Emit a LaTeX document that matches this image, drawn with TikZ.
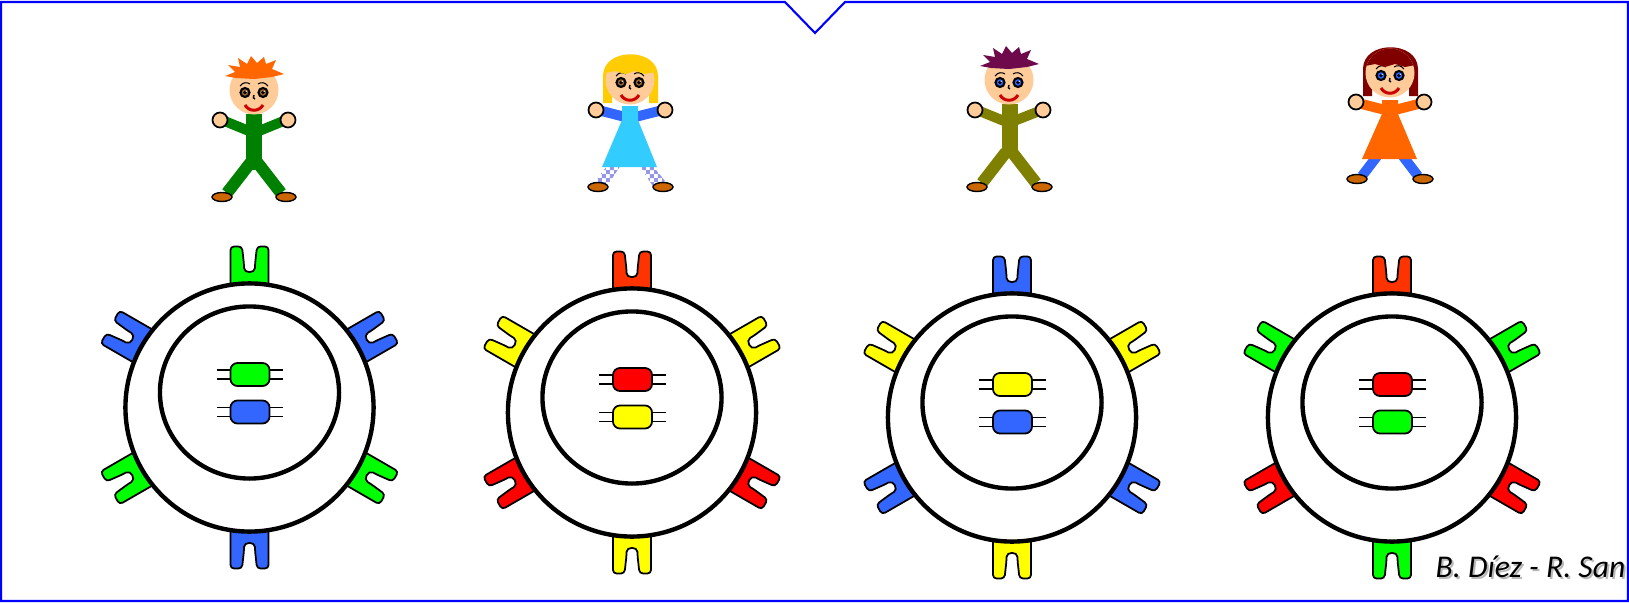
\documentclass[tikz,border=0pt]{standalone}
\usepackage{fontspec}
\newfontfamily\creditfont{Carlito}
\usetikzlibrary{shapes.geometric}
\usetikzlibrary{patterns}

\definecolor{frameblue}{RGB}{0,0,255}
\definecolor{recgreen}{RGB}{0,255,0}
\definecolor{recblue}{RGB}{51,102,255}
\definecolor{recred}{RGB}{255,0,0}
\definecolor{recorange}{RGB}{255,51,0}
\definecolor{recyellow}{RGB}{255,255,0}
\definecolor{skin}{RGB}{255,204,153}
\definecolor{shoe}{RGB}{204,102,0}
\definecolor{lipred}{RGB}{204,0,0}
\definecolor{irisbrown}{RGB}{153,102,51}
\definecolor{irisblue}{RGB}{51,102,255}
\definecolor{suitgreen}{RGB}{0,128,0}
\definecolor{suitolive}{RGB}{128,128,0}
\definecolor{hairorange}{RGB}{255,102,0}
\definecolor{hairblond}{RGB}{255,204,0}
\definecolor{hairplum}{RGB}{110,10,75}
\definecolor{hairmaroon}{RGB}{128,0,0}
\definecolor{dresssky}{RGB}{51,204,255}
\definecolor{dressorange}{RGB}{255,102,0}
\definecolor{checklilac}{RGB}{150,150,230}

% small checks for the stockings
\pgfdeclarepatternformonly{legchecks}{\pgfqpoint{0pt}{0pt}}{\pgfqpoint{2.4pt}{2.4pt}}{\pgfqpoint{2.4pt}{2.4pt}}{%
  \pgfpathrectangle{\pgfqpoint{0pt}{0pt}}{\pgfqpoint{1.2pt}{1.2pt}}%
  \pgfpathrectangle{\pgfqpoint{1.2pt}{1.2pt}}{\pgfqpoint{1.2pt}{1.2pt}}%
  \pgfusepath{fill}}

\begin{document}
\begin{tikzpicture}[x=0.01cm, y=-0.01cm,
    cellwall/.style={circle, draw, line width=1.25pt, fill=white, minimum size=2.48cm, inner sep=0pt},
    nucleus/.style={ellipse, draw, line width=1.25pt, minimum width=1.79cm, minimum height=1.72cm, inner sep=0pt},
    gene/.style={rectangle, draw, rounded corners=0.07cm, line width=0.5pt, minimum width=0.39cm, minimum height=0.23cm, inner sep=0pt},
    stub/.style={line width=0.5pt},
    pics/receptor/.style={code={
      \filldraw[fill=#1, line width=0.5pt, rounded corners=0.035cm] (105,-19) -- (161,-19) -- (161,-7.5) -- (143,-5.5)
        .. controls (134,-5.5) and (134,5.5) .. (143,5.5) -- (161,7.5) -- (161,19) -- (105,19) -- cycle;
    }},
    pics/face/.style={code={
      \fill[skin] (0,0) circle (24.5);
      \foreach \ex in {-9,9} {
        \filldraw[fill=#1, line width=0.6pt] (\ex,2.5) circle (4.5);
        \fill (\ex,2.5) circle (1.8);
        \fill[white] ({\ex+1.2},1.3) circle (0.7);
      }
      \draw[line width=0.3pt] (-14,-4) .. controls (-11,-8) and (-7,-8) .. (-4,-6)
        (4,-6) .. controls (7,-8) and (11,-8) .. (14,-4);
      \draw[line width=0.4pt] (0,5) .. controls (-1.5,7) and (-0.5,9) .. (1,9);
      \draw[lipred, line width=0.85pt] (-9,15) .. controls (-5,22) and (5,22) .. (9,15);
    }},
    pics/spikes/.style={code={
      \fill[#1] (-29,-14) -- (-19,-18) -- (-26,-25) -- (-14,-23) -- (-16,-32) -- (-7,-26) -- (-3,-34) -- (3,-27)
        -- (10,-33) -- (12,-26) -- (22,-30) -- (18,-21) -- (30,-16) -- (18,-13) -- (0,-11) -- (-18,-12) -- cycle;
    }},
    pics/girlhead/.style 2 args={code={
      \fill[#1] (-27,23) -- (-27,-4) .. controls (-27,-33) and (28,-33) .. (28,-4) -- (28,23) -- (19,23)
        -- (19,0) -- (-18,0) -- (-18,23) -- cycle;
      \pic {face=#2};
      \begin{scope}
        \clip (0,0) circle (24.5);
        \fill[#1] (-30,-30) -- (30,-30) -- (30,-9) -- (15,-6) -- (5,-9) -- (-5,-6) -- (-15,-9) -- (-30,-6) -- cycle;
      \end{scope}
    }}]

\useasboundingbox (0,0) rectangle (1629,603);

% frame with the notch on top
\draw[frameblue, line width=0.6pt] (785,2) -- (1,2) -- (1,601) -- (1628,601) -- (1628,2) -- (845,2) -- (815,33) -- cycle;

% cells: receptors, membrane, nucleus, two genes
\foreach \n/\x/\y/\tc/\ra/\rb/\ga/\gb in {
    1/249.5/407.5/recgreen/recgreen/recblue/recgreen/recblue,
    2/632/412.5/recorange/recred/recyellow/recred/recyellow,
    3/1012/417.5/recblue/recblue/recyellow/recyellow/recblue,
    4/1392/417.5/recorange/recred/recgreen/recred/recgreen} {
  \pic[rotate=90] at (\x,\y) {receptor=\tc};
  \foreach \ang in {-30,210} \pic[rotate=\ang] at (\x,\y) {receptor=\ra};
  \foreach \ang in {30,150,270} \pic[rotate=\ang] at (\x,\y) {receptor=\rb};
  \node[cellwall] (cell\n) at (\x,\y) {};
  \node[nucleus] (nucleus\n) at (\x,{\y-15}) {};
  \node[gene, fill=\ga] (gene\n-top) at ({\x+0.5},{\y-33}) {};
  \node[gene, fill=\gb] (gene\n-bot) at ({\x+0.5},{\y+4.5}) {};
  \foreach \g in {top,bot} {
    \draw[stub] ([yshift=0.045cm]gene\n-\g.west) -- ++(-13,0) ([yshift=-0.045cm]gene\n-\g.west) -- ++(-13,0);
    \draw[stub] ([yshift=0.045cm]gene\n-\g.east) -- ++(13,0) ([yshift=-0.045cm]gene\n-\g.east) -- ++(13,0);
  }
}

% first boy
\begin{scope}[shift={(254,90)}]
  \draw[suitgreen, line width=0.12cm] (-3,72) -- (-27,103) (3,72) -- (27,103);
  \filldraw[fill=shoe, line width=0.4pt] (-32,107) ellipse (10 and 4.5) (32,107) ellipse (10 and 4.5);
  \fill[suitgreen] (-8,24) rectangle (8,80);
  \draw[suitgreen, line width=0.1cm] (-5,41) -- (-32,30) (5,41) -- (32,30);
  \filldraw[fill=skin, line width=0.5pt] (-34,30) circle (7.5) (34,30) circle (7.5);
  \pic {face=irisbrown};
  \pic {spikes=hairorange};
\end{scope}

% first girl
\begin{scope}[shift={(630,80)}]
  \path[fill=white, postaction={pattern=legchecks, pattern color=checklilac}]
    (-6,80) -- (-24,108) -- (-35,101) -- (-18,80) -- cycle (6,80) -- (24,108) -- (35,101) -- (18,80) -- cycle;
  \filldraw[fill=shoe, line width=0.4pt] (-32,107) ellipse (10 and 4.5) (33,107) ellipse (10 and 4.5);
  \draw[recblue, line width=0.1cm] (-5,37) -- (-32,30) (5,37) -- (33,30);
  \filldraw[fill=skin, line width=0.5pt] (-34,30) circle (7.5) (35,30) circle (7.5);
  \fill[dresssky] (-8,26) -- (8,26) -- (8,40) -- (27,87) -- (-28,87) -- (-8,40) -- cycle;
  \pic {girlhead={hairblond}{irisbrown}};
\end{scope}

% second boy
\begin{scope}[shift={(1009,80)}]
  \draw[suitolive, line width=0.12cm] (-3,72) -- (-27,103) (3,72) -- (27,103);
  \filldraw[fill=shoe, line width=0.4pt] (-32,107) ellipse (10 and 4.5) (33,107) ellipse (10 and 4.5);
  \fill[suitolive] (-7,24) rectangle (9,78);
  \draw[suitolive, line width=0.1cm] (-5,41) -- (-32,30) (5,41) -- (33,30);
  \filldraw[fill=skin, line width=0.5pt] (-34,30) circle (7.5) (34,30) circle (7.5);
  \pic {face=irisblue};
  \pic {spikes=hairplum};
\end{scope}

% second girl
\begin{scope}[shift={(1390,73)}]
  \draw[recblue, line width=0.1cm] (-12,82) -- (-28,103) (12,82) -- (28,103);
  \filldraw[fill=shoe, line width=0.4pt] (-33,106) ellipse (10 and 4.5) (33,106) ellipse (10 and 4.5);
  \draw[dressorange, line width=0.1cm] (-5,37) -- (-32,30) (5,37) -- (32,30);
  \filldraw[fill=skin, line width=0.5pt] (-34,29) circle (7.5) (34,29) circle (7.5);
  \fill[dressorange] (-8,27) -- (8,27) -- (8,41) -- (27,86) -- (-28,86) -- (-8,41) -- cycle;
  \pic {girlhead={hairmaroon}{irisblue}};
\end{scope}

% authors
\node[anchor=base west, inner sep=0pt, text=black!50, opacity=0.55, font=\creditfont\itshape\fontsize{9}{10}\selectfont] (creditshade) at (1437,579) {B. Díez - R. San};
\node[anchor=base west, inner sep=0pt, font=\creditfont\itshape\fontsize{9}{10}\selectfont] (credit) at (1435,577) {B. Díez - R. San};
\end{tikzpicture}
\end{document}
